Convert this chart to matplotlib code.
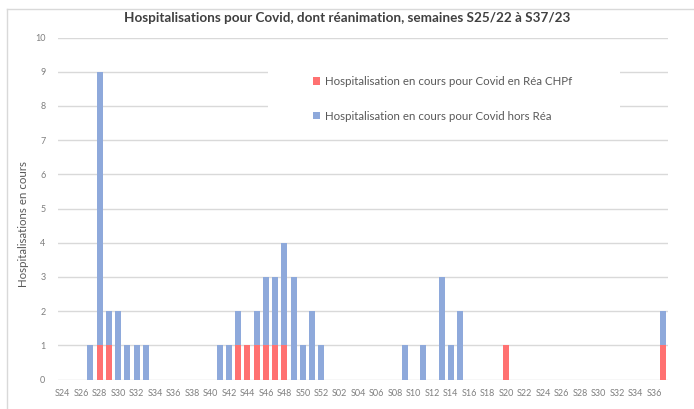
import matplotlib.pyplot as plt
import numpy as np

plt.rcParams['font.family'] = ['Lato', 'DejaVu Sans']

# semaines S24/22 -> S37/23
semaines = ['S%02d' % w for w in range(24, 53)] + ['S%02d' % w for w in range(1, 38)]

# Réa CHPf : S24..S52 (2022) puis S01..S37 (2023)
rea_22 = [0, 0, 0, 0, 1, 1, 0, 0, 0, 0,
          0, 0, 0, 0, 0, 0, 0, 0, 0, 1,
          1, 1, 1, 1, 1, 0, 0, 0, 0]
rea_23 = [0, 0, 0, 0, 0, 0, 0, 0, 0, 0,
          0, 0, 0, 0, 0, 0, 0, 0, 0, 1,
          0, 0, 0, 0, 0, 0, 0, 0, 0, 0,
          0, 0, 0, 0, 0, 0, 1]
# hors Réa
hors_22 = [0, 0, 0, 1, 8, 1, 2, 1, 1, 1,
           0, 0, 0, 0, 0, 0, 0, 1, 1, 1,
           0, 1, 2, 2, 3, 3, 1, 2, 1]
hors_23 = [0, 0, 0, 0, 0, 0, 0, 0, 1, 0,
           1, 0, 3, 1, 2, 0, 0, 0, 0, 0,
           0, 0, 0, 0, 0, 0, 0, 0, 0, 0,
           0, 0, 0, 0, 0, 0, 1]

y_rea = np.array(rea_22 + rea_23)
y_hors = np.array(hors_22 + hors_23)

rouge = '#FF7171'
bleu = '#8EA9DB'
gris = '#7F7F7F'

fig = plt.figure(figsize=(6.94, 4.09), dpi=100)
ax = fig.add_axes([58 / 694, 1 - 379.5 / 409, 610 / 694, 342 / 409])

x = np.arange(len(semaines))
ax.bar(x, y_rea, width=0.65, color=rouge, label='Hospitalisation en cours pour Covid en Réa CHPf', zorder=3)
ax.bar(x, y_hors, width=0.65, bottom=y_rea, color=bleu, label='Hospitalisation en cours pour Covid hors Réa', zorder=3)

ax.set_xlim(-0.5, len(semaines) - 0.5)
ax.set_ylim(0, 10)
ax.set_yticks(range(0, 11))
ax.set_xticks(x[::2])
ax.set_xticklabels(semaines[::2])
ax.tick_params(axis='both', length=0, labelsize=6.5, colors=gris, pad=7)
ax.tick_params(axis='y', pad=9)
ax.grid(axis='y', color='#D9D9D9', linewidth=1, zorder=0)
for sp in ax.spines.values():
    sp.set_visible(False)

ax.set_ylabel('Hospitalisations en cours', fontsize=8.3, color='#595959')
ax.yaxis.set_label_coords(-0.048, 0.455)

fig.text(0.5, 1 - 18 / 409, 'Hospitalisations pour Covid, dont réanimation, semaines S25/22 à S37/23',
         ha='center', va='center', fontsize=9.7, fontweight='bold', color='#404040')

# fond blanc de la légende (masque les lignes 8 et 9)
fig.add_artist(plt.Rectangle((268 / 694, 1 - 130 / 409), 352 / 694, 68 / 409,
                             facecolor='white', edgecolor='none', zorder=2))

leg = fig.legend(loc='center left', bbox_to_anchor=(313 / 694, 1 - 99 / 409), frameon=False, fontsize=8.3,
                 handlelength=0.6, handleheight=0.6, handletextpad=0.45, labelspacing=2.05,
                 borderpad=0, borderaxespad=0)
leg.set_zorder(3)
for t in leg.get_texts():
    t.set_color('#595959')

# cadre du graphique
fig.add_artist(plt.Line2D([7 / 694, 7 / 694], [0, 1 - 9 / 409], color='#D9D9D9', linewidth=1))
fig.add_artist(plt.Line2D([7 / 694, 1], [1 - 9 / 409, 1 - 9 / 409], color='#D9D9D9', linewidth=1))

fig.savefig('out.png', dpi=100)
